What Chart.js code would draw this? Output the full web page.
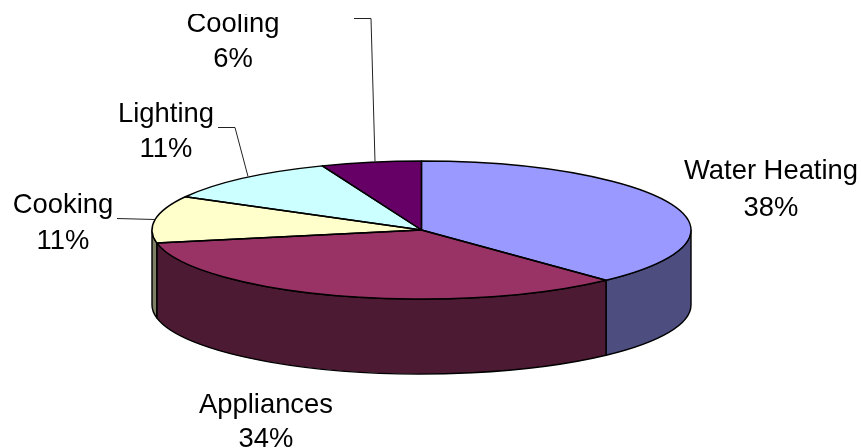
<!DOCTYPE html>
<html lang="en">
<head>
    <meta charset="UTF-8">
    <title>Home Energy Use</title>
    <script src="https://cdn.jsdelivr.net/npm/chart.js"></script>
    <style>
        html, body { margin: 0; padding: 0; background: #fff; overflow: hidden; }
        canvas { display: block; }
    </style>
</head>
<body>
    <canvas id="energyPie" width="861" height="448"></canvas>
    <script>
        const categories = ['Water Heating', 'Appliances', 'Cooking', 'Lighting', 'Cooling'];
        const shares = [38, 34, 11, 11, 6];

        const topColors = ['#9999FF', '#993366', '#FFFFCC', '#CCFFFF', '#660066'];
        const wallColors = ['#4D4D80', '#4D1A33', '#808066', '#668080', '#330033'];

        // tilted disc: ellipse centre, radii, wall height
        const DISC = { x: 421.5, y: 230, rx: 269.5, ry: 69, depth: 75 };
        const FONT = '27.4px "Liberation Sans", Arial, sans-serif';
        const TEXT_TOP = 14;

        // text centre x, baselines of the name and percent rows
        const labelSpots = [
            { x: 771, name: 179, pct: 216 },
            { x: 266, name: 413, pct: 447 },
            { x: 63, name: 213, pct: 249 },
            { x: 166, name: 122, pct: 157 },
            { x: 233, name: 32, pct: 67 }
        ];
        const leaders = [
            [[117, 218], [155, 219]],
            [[218, 127], [235, 127], [248, 176]],
            [[354, 18], [371, 18], [375, 161]]
        ];

        function wallPath(ctx, a0, a1) {
            ctx.beginPath();
            ctx.ellipse(DISC.x, DISC.y, DISC.rx, DISC.ry, 0, a0, a1);
            ctx.lineTo(DISC.x + DISC.rx * Math.cos(a1), DISC.y + DISC.ry * Math.sin(a1) + DISC.depth);
            ctx.ellipse(DISC.x, DISC.y + DISC.depth, DISC.rx, DISC.ry, 0, a1, a0, true);
            ctx.closePath();
        }

        const tiltedPie = {
            id: 'tiltedPie',
            beforeDatasetsDraw(chart) {
                const ctx = chart.ctx;
                const arcs = chart.getDatasetMeta(0).data;

                // walls only show on the front half of the disc
                ctx.save();
                ctx.strokeStyle = '#000';
                ctx.lineWidth = 1.4;
                ctx.lineJoin = 'round';
                arcs.forEach((arc, i) => {
                    const a0 = Math.max(arc.startAngle, 0);
                    const a1 = Math.min(arc.endAngle, Math.PI);
                    if (a1 <= a0) return;
                    wallPath(ctx, a0, a1);
                    ctx.fillStyle = wallColors[i];
                    ctx.fill();
                    ctx.stroke();
                });
                ctx.restore();

                // squash the library's round pie into the ellipse
                const first = arcs[0];
                ctx.save();
                ctx.translate(DISC.x, DISC.y);
                ctx.scale(DISC.rx / first.outerRadius, DISC.ry / first.outerRadius);
                ctx.translate(-first.x, -first.y);
            },
            afterDatasetsDraw(chart) {
                const ctx = chart.ctx;
                ctx.restore();

                // outlines go on after the transform so the pen stays even
                ctx.save();
                ctx.strokeStyle = '#000';
                ctx.lineWidth = 1.4;
                ctx.lineJoin = 'round';
                chart.getDatasetMeta(0).data.forEach(arc => {
                    ctx.beginPath();
                    ctx.moveTo(DISC.x, DISC.y);
                    ctx.ellipse(DISC.x, DISC.y, DISC.rx, DISC.ry, 0, arc.startAngle, arc.endAngle);
                    ctx.closePath();
                    ctx.stroke();
                });
                ctx.restore();

                // leader lines
                ctx.save();
                ctx.strokeStyle = '#222';
                ctx.lineWidth = 1;
                leaders.forEach(pts => {
                    ctx.beginPath();
                    pts.forEach((p, i) => i ? ctx.lineTo(p[0], p[1] + 0.5) : ctx.moveTo(p[0], p[1] + 0.5));
                    ctx.stroke();
                });
                ctx.restore();

                // labels, the frame cuts off the top of the highest one
                ctx.save();
                ctx.beginPath();
                ctx.rect(0, TEXT_TOP, chart.width, chart.height - TEXT_TOP);
                ctx.clip();
                ctx.font = FONT;
                ctx.fillStyle = '#000';
                ctx.textAlign = 'center';
                ctx.textBaseline = 'alphabetic';
                categories.forEach((name, i) => {
                    const spot = labelSpots[i];
                    ctx.fillText(name, spot.x, spot.name);
                    ctx.fillText(shares[i] + '%', spot.x, spot.pct);
                });
                ctx.restore();
            }
        };

        new Chart(document.getElementById('energyPie').getContext('2d'), {
            type: 'pie',
            data: {
                labels: categories,
                datasets: [{
                    data: shares,
                    backgroundColor: topColors,
                    borderWidth: 0
                }]
            },
            options: {
                responsive: false,
                animation: false,
                layout: { padding: 0 },
                plugins: {
                    legend: { display: false },
                    tooltip: { enabled: false }
                }
            },
            plugins: [tiltedPie]
        });
    </script>
</body>
</html>
